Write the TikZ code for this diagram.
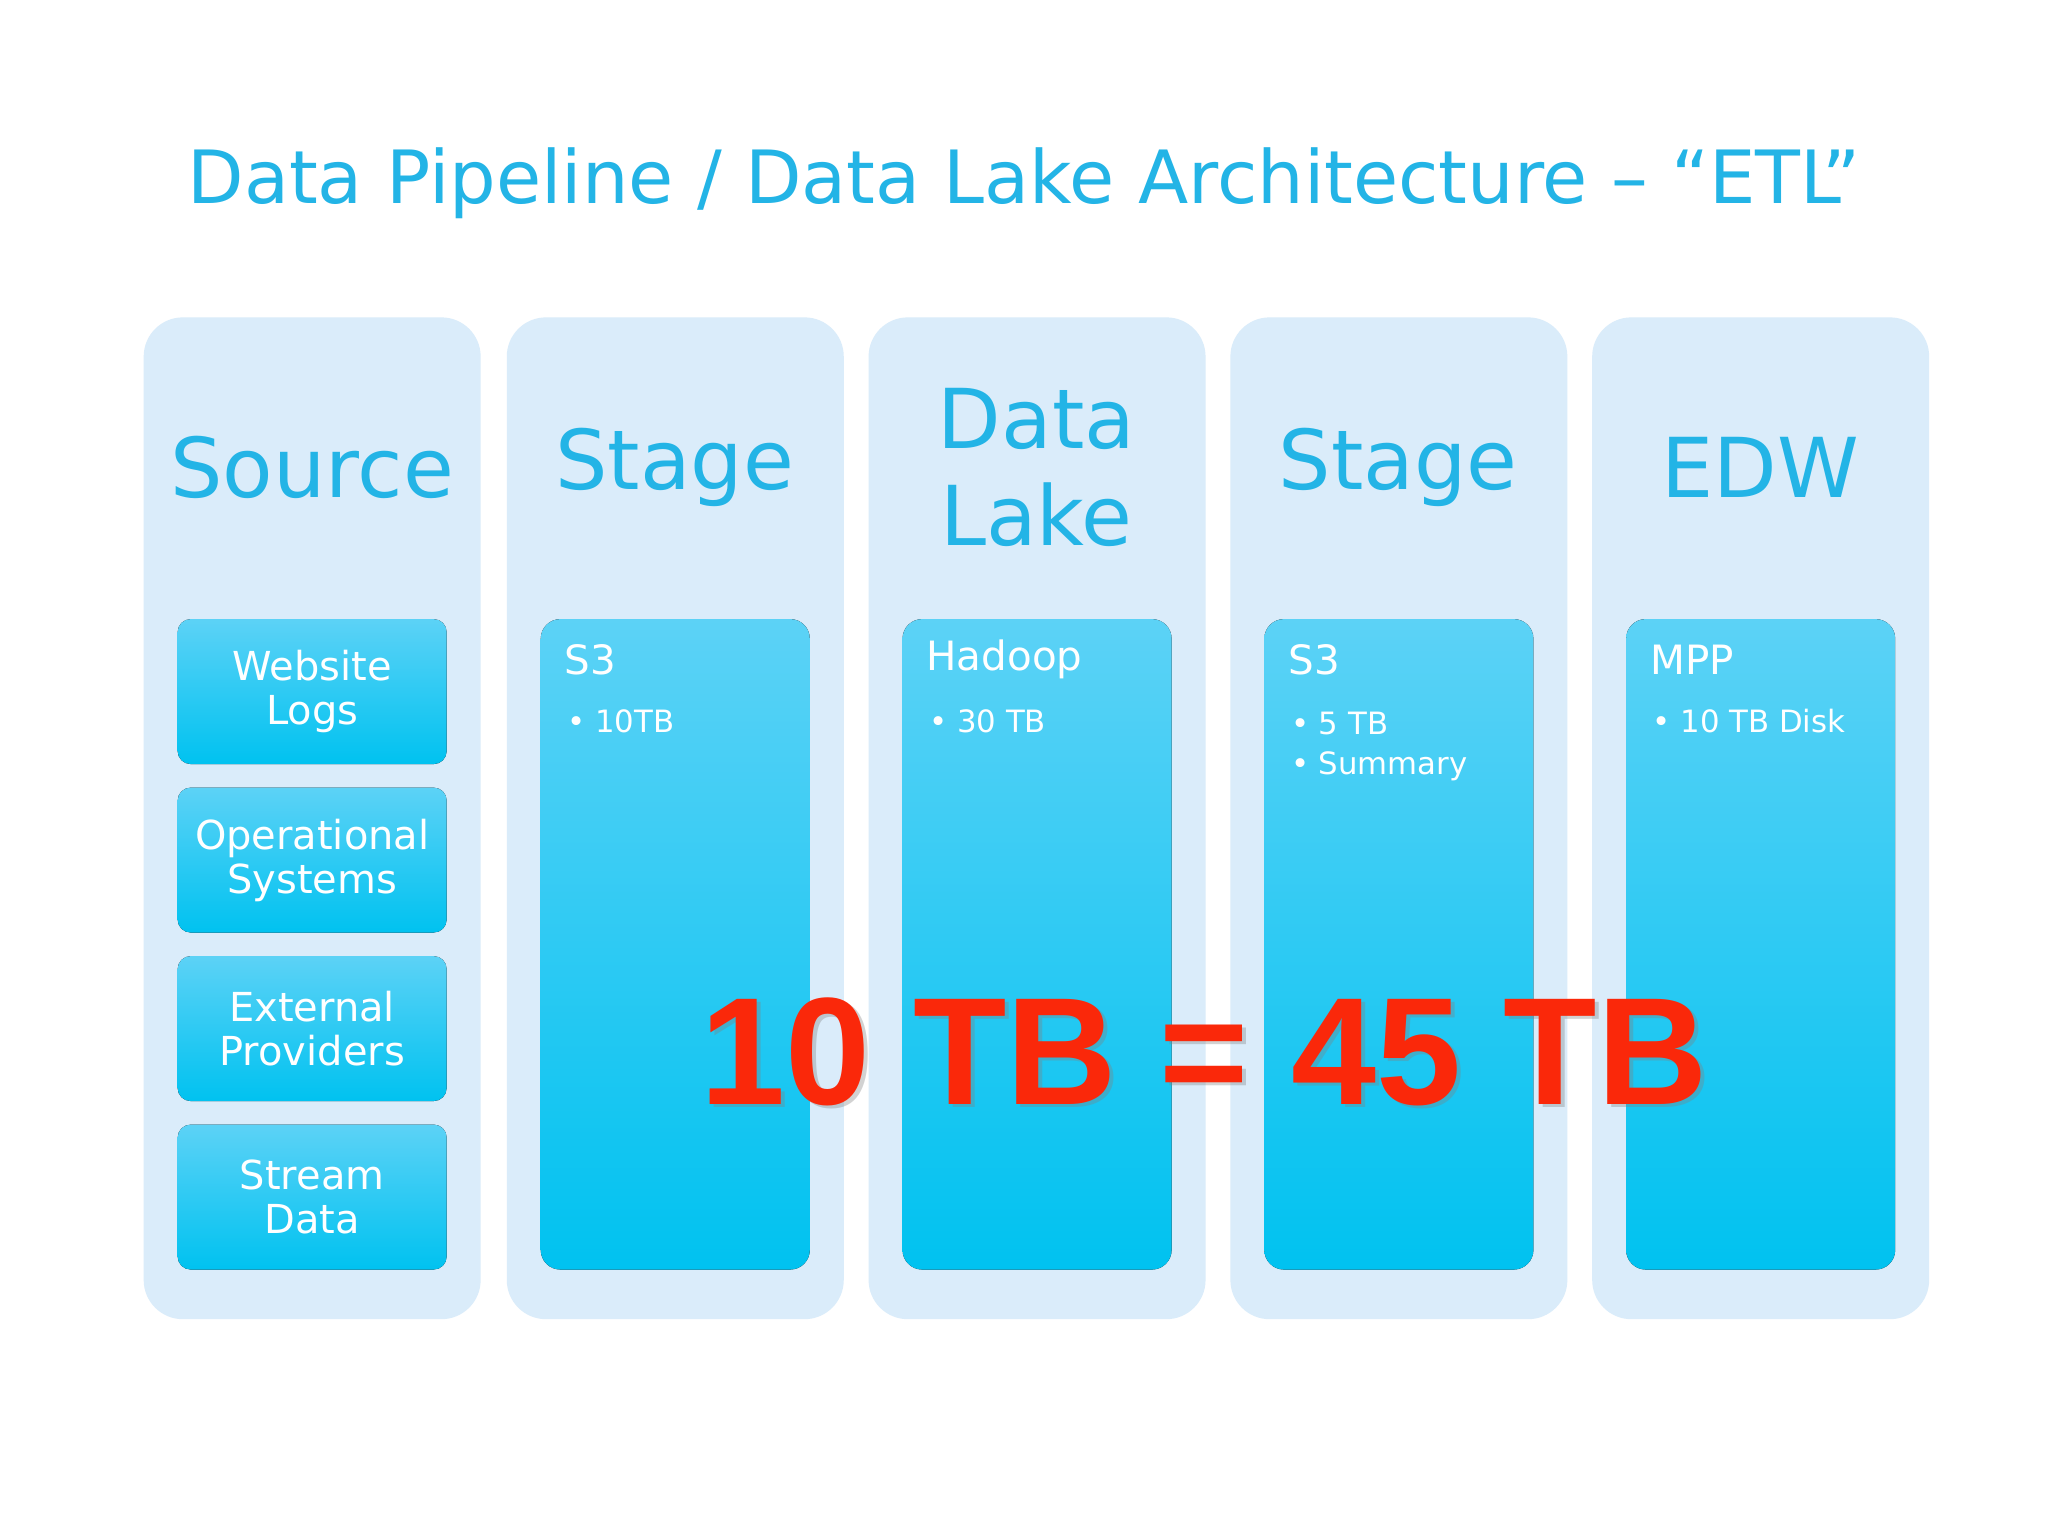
\documentclass[tikz,border=0pt]{standalone}
\usepackage{fontspec}
\setmainfont{DejaVu Sans}
\newfontfamily\arialb{Liberation Sans}
\definecolor{ttl}{RGB}{35,180,230}
\definecolor{col}{RGB}{218,236,250}
\definecolor{gtop}{RGB}{92,210,246}
\definecolor{gbot}{RGB}{0,194,240}
\definecolor{redt}{RGB}{250,40,10}
\begin{document}
\begin{tikzpicture}[x=1cm,y=-1cm,
  colbox/.style={fill=col,draw=none,rounded corners=0.3cm},
  inbox/.style={draw=none,rounded corners=0.15cm,top color=gtop,bottom color=gbot},
  head/.style={text=ttl,font=\fontsize{18}{19}\selectfont,align=center},
  srclbl/.style={text=white,font=\fontsize{8.7}{9.6}\selectfont,align=center},
  itl/.style={text=white,anchor=west,font=\fontsize{8.8}{10}\selectfont},
  itb/.style={text=white,anchor=west,font=\fontsize{6.7}{8.6}\selectfont,align=left}]
\useasboundingbox (0,0) rectangle (15.68,11.76);
\fill[white] (0,0) rectangle (15.68,11.76);
\node[text=ttl,font=\fontsize{16}{18}\selectfont] (title) at (7.84,1.4) {Data Pipeline / Data Lake Architecture – “ETL”};
% columns
\foreach \n/\x in {c1/1.10,c2/3.88,c3/6.65,c4/9.42,c5/12.19}{
  \fill[colbox] (\x,2.43) rectangle ++(2.58,7.67);
}
\node[head] (h1) at (2.39,3.58) {Source};
\node[head] (h2) at (5.165,3.58) {Stage};
\node[head,font=\fontsize{18}{21}\selectfont] (h3) at (7.935,3.58) {Data\\Lake};
\node[head] (h4) at (10.705,3.58) {Stage};
\node[head] (h5) at (13.475,3.58) {EDW};
% source boxes
\foreach \y/\t in {4.74/{Website\\Logs},6.03/{Operational\\Systems},7.32/{External\\Providers},8.61/{Stream\\Data}}{
  \fill[inbox,rounded corners=0.1cm] (1.36,\y) rectangle ++(2.06,1.11);
  \node[srclbl] at (2.39,\y+0.555) {\t};
}
% inner boxes
\foreach \x in {4.14,6.91,9.68,12.45}{
  \fill[inbox] (\x,4.74) rectangle ++(2.06,4.98);
}
\node[itl] (s3a) at (4.2,5.05) {S3};
\node[itb] (s3ab) at (4.22,5.52) {• 10TB};
\node[itl] (hd) at (6.97,5.05) {Hadoop};
\node[itb] (hdb) at (6.99,5.52) {• 30 TB};
\node[itl] (s3b) at (9.74,5.05) {S3};
\node[itb,anchor=north west] (s3bb) at (9.76,5.33) {• 5 TB\\• Summary};
\node[itl] (mpp) at (12.51,5.05) {MPP};
\node[itb] (mppb) at (12.53,5.52) {• 10 TB Disk};
% big text
\node[text=black!50,opacity=0.35,font=\arialb\bfseries\fontsize{33.3}{36}\selectfont] at (9.25,8.08) {10 TB = 45 TB};
\node[text=redt,font=\arialb\bfseries\fontsize{33.3}{36}\selectfont] (big) at (9.22,8.05) {10 TB = 45 TB};
\end{tikzpicture}
\end{document}
